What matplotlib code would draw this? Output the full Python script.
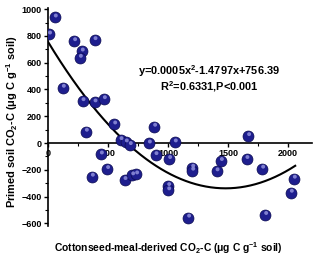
import numpy as np
import matplotlib
matplotlib.use("Agg")
import matplotlib.pyplot as plt
import matplotlib.transforms as mtransforms

# Data
x_vals = [58, 10, 219, 389, 283, 267, 125, 289, 389, 467, 553, 886, 317,
          606, 650, 683, 842, 442, 897, 494, 367, 639, 703, 736,
          1058, 1669, 1011, 1442, 1655, 1203, 1203, 1406, 1786, 2050,
          2025, 1003, 1003, 1169, 1811]
y_vals = [938, 811, 761, 769, 684, 637, 413, 313, 304, 328, 139, 122, 85,
          22, 5, -15, -3, -85, -90, -194, -251, -276, -241, -234,
          5, 52, -119, -134, -119, -184, -206, -211, -191, -266,
          -371, -321, -353, -557, -537]
fit_coef = [0.0005, -1.4797, 756.39]
fit_range = [0, 2060]
x_ticks = [0, 500, 1000, 1500, 2000]
y_ticks = [-600, -400, -200, 0, 200, 400, 600, 800, 1000]

plt.rcParams['font.family'] = ['Liberation Sans', 'DejaVu Sans']
plt.rcParams['font.weight'] = 'bold'
plt.rcParams['mathtext.fontset'] = 'custom'
plt.rcParams['mathtext.rm'] = 'Liberation Sans:bold'
plt.rcParams['mathtext.it'] = 'Liberation Sans:bold'
plt.rcParams['mathtext.bf'] = 'Liberation Sans:bold'
plt.rcParams['mathtext.default'] = 'bf'

fig = plt.figure(figsize=(3.2, 2.61), dpi=100)
ax = fig.add_axes([0.15, 0.134, 0.825, 0.836])
ax.set_xlim(0, 2200)
ax.set_ylim(-620, 1010)

xf = np.linspace(fit_range[0], fit_range[1], 200)
yf = np.polyval(fit_coef, xf)
ax.plot(xf, yf, color='black', lw=1.5, zorder=2)

ax.scatter(x_vals, y_vals, s=62, color='#1e1e8e', edgecolors='#0a0a50',
           linewidths=0.5, zorder=3)
off = mtransforms.ScaledTranslation(0.6/72, 1.4/72, fig.dpi_scale_trans)
ax.scatter(x_vals, y_vals, s=8, color='#8a8ad8', edgecolors='none',
           zorder=4, transform=ax.transData + off, alpha=0.9)

ax.spines['top'].set_visible(False)
ax.spines['right'].set_visible(False)
ax.spines['bottom'].set_position(('data', 0))
ax.spines['left'].set_linewidth(1.2)
ax.spines['bottom'].set_linewidth(1.2)

ax.set_xticks(x_ticks)
ax.set_yticks(y_ticks)
ax.set_xticks(np.arange(250, 2200, 500), minor=True)
ax.set_yticks(np.arange(-500, 1000, 200), minor=True)
ax.tick_params(axis='both', which='major', direction='out', length=3,
               width=1, labelsize=6.5, pad=1.5)
ax.tick_params(axis='both', which='minor', direction='out', length=2, width=0.8)
for lab in ax.get_xticklabels() + ax.get_yticklabels():
    lab.set_fontweight('bold')

fig.text(12/320, 1 - 122/261, r'Primed soil CO$_2$-C (μg C g$^{-1}$ soil)',
         rotation=90, ha='center', va='center', fontsize=7.9, fontweight='bold')
fig.text(168/320, 1 - 248/261,
         r'Cottonseed-meal-derived CO$_2$-C (μg C g$^{-1}$ soil)',
         ha='center', va='center', fontsize=7.35, fontweight='bold')

fig.text(209/320, 1 - 71/261, r'y=0.0005x$^2$-1.4797x+756.39',
         ha='center', va='center', fontsize=7.9, fontweight='bold')
fig.text(209/320, 1 - 87/261, r'R$^2$=0.6331,P<0.001',
         ha='center', va='center', fontsize=7.9, fontweight='bold')

fig.savefig('out.png', dpi=100)
